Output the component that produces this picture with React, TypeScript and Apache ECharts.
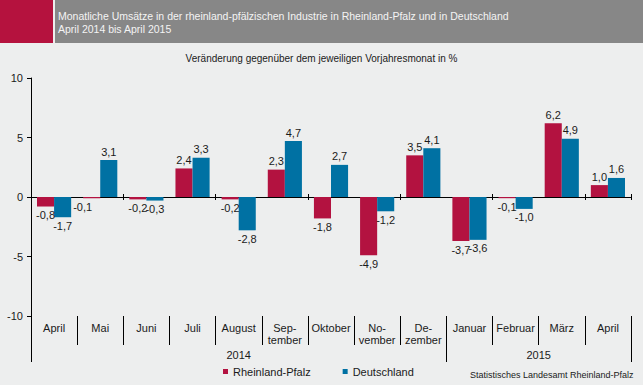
import React, { useEffect, useRef } from "react";
import * as echarts from "echarts";

const categories = [
  "April", "Mai", "Juni", "Juli", "August", "Sep-\ntember", "Oktober",
  "No-\nvember", "De-\nzember", "Januar", "Februar", "März", "April",
];
const rheinlandPfalz = [-0.8, -0.1, -0.2, 2.4, -0.2, 2.3, -1.8, -4.9, 3.5, -3.7, -0.1, 6.2, 1.0];
const deutschland = [-1.7, 3.1, -0.3, 3.3, -2.8, 4.7, 2.7, -1.2, 4.1, -3.6, -1.0, 4.9, 1.6];
const yearLabels = ["2014", "2015"];
const yearMonthCounts = [9, 4];

const titleLines = [
  "Monatliche Umsätze in der rheinland-pfälzischen Industrie in Rheinland-Pfalz und in Deutschland",
  "April 2014 bis April 2015",
];
const subtitle = "Veränderung gegenüber dem jeweiligen Vorjahresmonat in %";
const sourceText = "Statistisches Landesamt Rheinland-Pfalz";

const RED = "#B31240";
const BLUE = "#0071A3";
const TEXT = "#1a1a1a";
const FONT = "'Liberation Sans', Arial, sans-serif";

const fmt = (v: number) => v.toFixed(1).replace(".", ",");

export default function App() {
  const ref = useRef<HTMLDivElement>(null);
  useEffect(() => {
    if (!ref.current) return;
    const chart = echarts.init(ref.current, undefined, { renderer: "svg" });

    const yearBounds: number[] = [0];
    yearMonthCounts.forEach((c) => yearBounds.push(yearBounds[yearBounds.length - 1] + c));
    const yearCenters = yearLabels.map((_, i) => (yearBounds[i] + yearBounds[i + 1]) / 2);

    const mkData = (arr: number[], offsets: Record<number, number[]> = {}) =>
      arr.map((v, i) => ({
        value: v,
        label: {
          position: v >= 0 ? "top" : "bottom",
          offset: offsets[i] || [0, 0],
        },
      }));

    const labelCommon = {
      show: true,
      fontSize: 11,
      color: TEXT,
      fontFamily: FONT,
      distance: 3,
      formatter: (p: any) => fmt(p.value),
    };

    chart.setOption({
      animation: false,
      backgroundColor: "#EDEEEE",
      textStyle: { fontFamily: FONT },
      grid: { left: 31, right: 12, top: 78, bottom: 69, containLabel: false },
      legend: {
        left: 218,
        top: 361,
        icon: "rect",
        itemWidth: 5,
        itemHeight: 5,
        itemGap: 32,
        textStyle: { fontSize: 11, color: TEXT, fontFamily: FONT },
        data: ["Rheinland-Pfalz", "Deutschland"],
      },
      xAxis: [
        {
          type: "category",
          data: categories,
          position: "bottom",
          axisLine: { onZero: true, lineStyle: { color: "#000", width: 1 } },
          axisTick: { show: true, length: 3, lineStyle: { color: "#000" } },
          axisLabel: { show: false },
          splitLine: { show: false },
        },
        {
          type: "category",
          data: categories,
          position: "top",
          axisLine: { onZero: true, onZeroAxisIndex: 0, lineStyle: { color: "#000", width: 1 } },
          axisTick: { show: true, length: 3, lineStyle: { color: "#000" } },
          axisLabel: { show: false },
          splitLine: { show: false },
        },
        {
          type: "category",
          data: categories,
          position: "bottom",
          axisLine: { show: false, onZero: false },
          axisTick: { show: true, length: 29, lineStyle: { color: "#000" } },
          axisLabel: {
            show: true,
            interval: 0,
            margin: 6,
            fontSize: 11,
            lineHeight: 12,
            color: TEXT,
            fontFamily: FONT,
          },
          splitLine: { show: false },
        },
        {
          type: "value",
          min: 0,
          max: yearBounds[yearBounds.length - 1],
          position: "bottom",
          axisLine: { show: false, onZero: false },
          axisTick: {
            show: true,
            length: 46,
            customValues: yearBounds,
            lineStyle: { color: "#000" },
          },
          axisLabel: {
            show: true,
            customValues: yearCenters,
            margin: 33,
            fontSize: 11,
            color: TEXT,
            fontFamily: FONT,
            formatter: (v: number) => {
              const idx = yearCenters.findIndex((c) => Math.abs(c - v) < 1e-6);
              return idx >= 0 ? yearLabels[idx] : "";
            },
          },
          splitLine: { show: false },
        },
      ],
      yAxis: {
        type: "value",
        min: -10,
        max: 10,
        interval: 5,
        axisLine: { show: true, lineStyle: { color: "#000", width: 1 } },
        axisTick: { show: true, length: 4, lineStyle: { color: "#000" } },
        axisLabel: { fontSize: 11, color: TEXT, margin: 8, fontFamily: FONT },
        splitLine: { show: false },
      },
      series: [
        {
          name: "Rheinland-Pfalz",
          type: "bar",
          xAxisIndex: 0,
          data: mkData(rheinlandPfalz, { 1: [-9, 0] }),
          itemStyle: { color: RED },
          barGap: "0%",
          barCategoryGap: "26%",
          label: labelCommon,
        },
        {
          name: "Deutschland",
          type: "bar",
          xAxisIndex: 0,
          data: mkData(deutschland),
          itemStyle: { color: BLUE },
          barGap: "0%",
          barCategoryGap: "26%",
          label: labelCommon,
        },
      ],
      graphic: [
        { type: "rect", left: 0, top: 0, shape: { width: 53, height: 43 }, style: { fill: "#B5123E" } },
        { type: "rect", left: 55, top: 0, shape: { width: 588, height: 43 }, style: { fill: "#878787" } },
        {
          type: "text",
          left: 58,
          top: 10,
          style: {
            text: titleLines.join("\n"),
            fill: "#F4F4F4",
            fontSize: 10.5,
            lineHeight: 12.5,
            fontFamily: FONT,
          },
        },
        {
          type: "text",
          left: "center",
          top: 53,
          style: { text: subtitle, fill: TEXT, fontSize: 10, fontFamily: FONT },
        },
        {
          type: "text",
          left: 470,
          top: 370,
          style: { text: sourceText, fill: TEXT, fontSize: 9, fontFamily: FONT },
        },
      ],
    });
    return () => chart.dispose();
  }, []);
  return (
    <div
      ref={ref}
      style={{ position: "fixed", left: 0, top: 0, width: 643, height: 385 }}
    />
  );
}
